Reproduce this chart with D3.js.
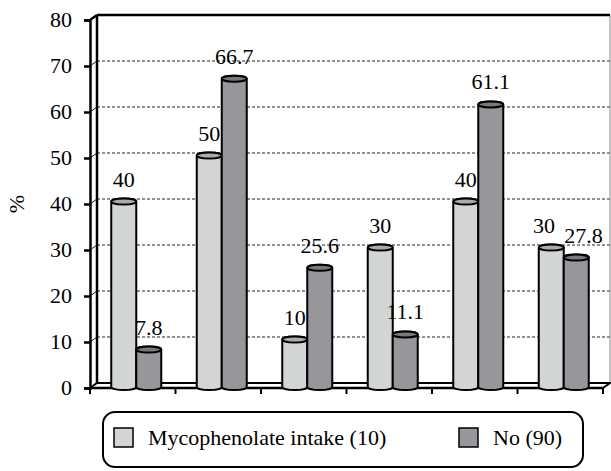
<!DOCTYPE html>
<html>
<head>
<meta charset="utf-8">
<script src="https://cdn.jsdelivr.net/npm/d3@7"></script>
</head>
<body style="margin:0">
<script>
// values
let groups	= ["g1", "g2", "g3", "g4", "g5", "g6"]
let seriesNames	= ["Mycophenolate intake (10)", "No (90)"]
let mycophenolate	= [40, 50, 10, 30, 40, 30]
let noIntake	= [7.8, 66.7, 25.6, 11.1, 61.1, 27.8]
let yTicks	= [0, 10, 20, 30, 40, 50, 60, 70, 80]

let colors = ["#d3d5d5", "#96969b"]
let fontSize = 22
let dims = {width: 611, height: 471}
let depth = {dx: 7, dy: -5}

let svg = d3.select("body").append("svg")
	.attr("width", dims.width)
	.attr("height", dims.height)

let x = d3.scaleBand().domain(groups).range([90, 603])
let inner = d3.scaleBand().domain([0, 1]).range([0, x.bandwidth()]).paddingOuter(0.71)
let y = d3.scaleLinear().domain([0, 80]).range([388, 20])

let front = {x0: 90, x1: 603}
let back = {x0: front.x0 + depth.dx, x1: front.x1 + depth.dx}
let yBack = v => y(v) + depth.dy

function addText(parent, txt) {
	return parent.append("text")
		.attr("font-size", fontSize)
		.style("font-family", `"Liberation Serif"`)
		.text(txt)
}
// rough text width for serif digits
let textWidth = t => String(t).length * fontSize * 0.48

// walls
let walls = svg.append("g")
walls.append("rect")
	.attr("x", back.x0).attr("y", yBack(80))
	.attr("width", back.x1 - back.x0).attr("height", yBack(0) - yBack(80))
	.attr("fill", "#fff")

// gridlines on back wall + side wall
yTicks.filter(v => v > 0 && v < 80).forEach(v => {
	walls.append("line")
		.attr("x1", back.x0).attr("x2", back.x1)
		.attr("y1", yBack(v)).attr("y2", yBack(v))
		.attr("stroke", "#222").attr("stroke-width", 1)
		.attr("stroke-dasharray", "3,2")
	walls.append("line")
		.attr("x1", front.x0).attr("x2", back.x0)
		.attr("y1", y(v)).attr("y2", yBack(v))
		.attr("stroke", "#222").attr("stroke-width", 1)
})

// right edge of back wall
walls.append("line")
	.attr("x1", back.x1).attr("x2", back.x1)
	.attr("y1", yBack(80)).attr("y2", yBack(0))
	.attr("stroke", "#888").attr("stroke-width", 1)

// top and left of back wall
walls.append("line")
	.attr("x1", back.x0).attr("x2", back.x1)
	.attr("y1", yBack(80)).attr("y2", yBack(80))
	.attr("stroke", "#000").attr("stroke-width", 2.5)
walls.append("line")
	.attr("x1", back.x0).attr("x2", back.x0)
	.attr("y1", yBack(80)).attr("y2", yBack(0))
	.attr("stroke", "#000").attr("stroke-width", 2.5)

walls.append("path")
	.attr("d", `M${front.x0},${y(80)}L${back.x0},${yBack(80)}`)
	.attr("stroke", "#000").attr("stroke-width", 2.5).attr("fill", "none")

// floor
walls.append("path")
	.attr("d", `M${front.x0},${y(0)}L${back.x0},${yBack(0)}L${back.x1},${yBack(0)}L${front.x1},${y(0)}`)
	.attr("stroke", "#000").attr("stroke-width", 2).attr("fill", "#fff")

// y axis: ticks and line from d3, labels drawn as plain texts at scale positions
let yAxis = d3.axisLeft(y).tickValues(yTicks).tickSize(6).tickFormat("")
let ya = svg.append("g")
	.attr("transform", `translate(${front.x0},0)`)
	.call(yAxis)
ya.select(".domain").attr("stroke", "#000").attr("stroke-width", 2.5)
ya.selectAll(".tick line").attr("stroke", "#000").attr("stroke-width", 2.5)
let yLabels = svg.append("g")
yTicks.forEach(v => {
	addText(yLabels, v)
		.attr("x", front.x0 - 18).attr("y", y(v))
		.attr("dy", "0.34em")
		.attr("text-anchor", "end")
})

// x axis (ticks at group boundaries, no labels)
let xa = svg.append("g")
let bounds = groups.map(g => x(g)).concat([x.range()[1]])
xa.append("line")
	.attr("x1", front.x0).attr("x2", front.x1)
	.attr("y1", y(0)).attr("y2", y(0))
	.attr("stroke", "#000").attr("stroke-width", 2.5)
xa.selectAll("line.tick").data(bounds).enter()
	.append("line").classed("tick", true)
	.attr("x1", d => d).attr("x2", d => d)
	.attr("y1", y(0)).attr("y2", y(0) + 6)
	.attr("stroke", "#000").attr("stroke-width", 2)

// y title
addText(svg, "%")
	.attr("transform", "translate(24,204) rotate(-90)")
	.attr("text-anchor", "middle")

// bars as cylinders
let series = [mycophenolate, noIntake]
let ry = 3
let bars = svg.append("g")
groups.forEach((g, i) => {
	let labels = []
	series.forEach((vals, s) => {
		let x0 = x(g) + inner(s) + depth.dx / 2
		let w = inner.bandwidth()
		let rx = w / 2
		let yt = y(vals[i]) + depth.dy / 2
		let yb = y(0) - 1
		let cx = x0 + rx
		bars.append("path")
			.attr("d", `M${x0},${yb}L${x0},${yt}A${rx},${ry} 0 0 1 ${x0 + w},${yt}L${x0 + w},${yb}A${rx},${ry} 0 0 1 ${x0},${yb}Z`)
			.attr("fill", colors[s]).attr("stroke", "#000").attr("stroke-width", 2)
		bars.append("ellipse")
			.attr("cx", cx).attr("cy", yt)
			.attr("rx", rx).attr("ry", ry)
			.attr("fill", d3.color(colors[s]).darker(0.6)).attr("stroke", "#000").attr("stroke-width", 2)
		labels.push({sel: addText(bars, vals[i])
			.attr("x", cx).attr("y", yt - 15)
			.attr("text-anchor", "middle"), cx: cx, ty: yt - 15, t: vals[i]})
	})
	// push apart labels of the same group if they collide
	let [a, b] = labels
	let overlapX = (a.cx + textWidth(a.t) / 2 + 8) - (b.cx - textWidth(b.t) / 2)
	if (overlapX > 0 && Math.abs(a.ty - b.ty) < fontSize) {
		a.sel.attr("x", a.cx - overlapX / 2)
		b.sel.attr("x", b.cx + overlapX / 2)
	}
})

// legend
let legend = svg.append("g")
legend.append("rect")
	.attr("x", 103).attr("y", 412).attr("width", 480).attr("height", 55)
	.attr("rx", 12).attr("ry", 12)
	.attr("fill", "#fff").attr("stroke", "#000").attr("stroke-width", 2)
let legendX = [114, 459]
seriesNames.forEach((name, s) => {
	legend.append("rect")
		.attr("x", legendX[s]).attr("y", 428).attr("width", 19).attr("height", 19)
		.attr("fill", colors[s]).attr("stroke", "#000").attr("stroke-width", 1.5)
	addText(legend, name)
		.attr("x", legendX[s] + 34).attr("y", 445)
})
</script>
</body>
</html>
